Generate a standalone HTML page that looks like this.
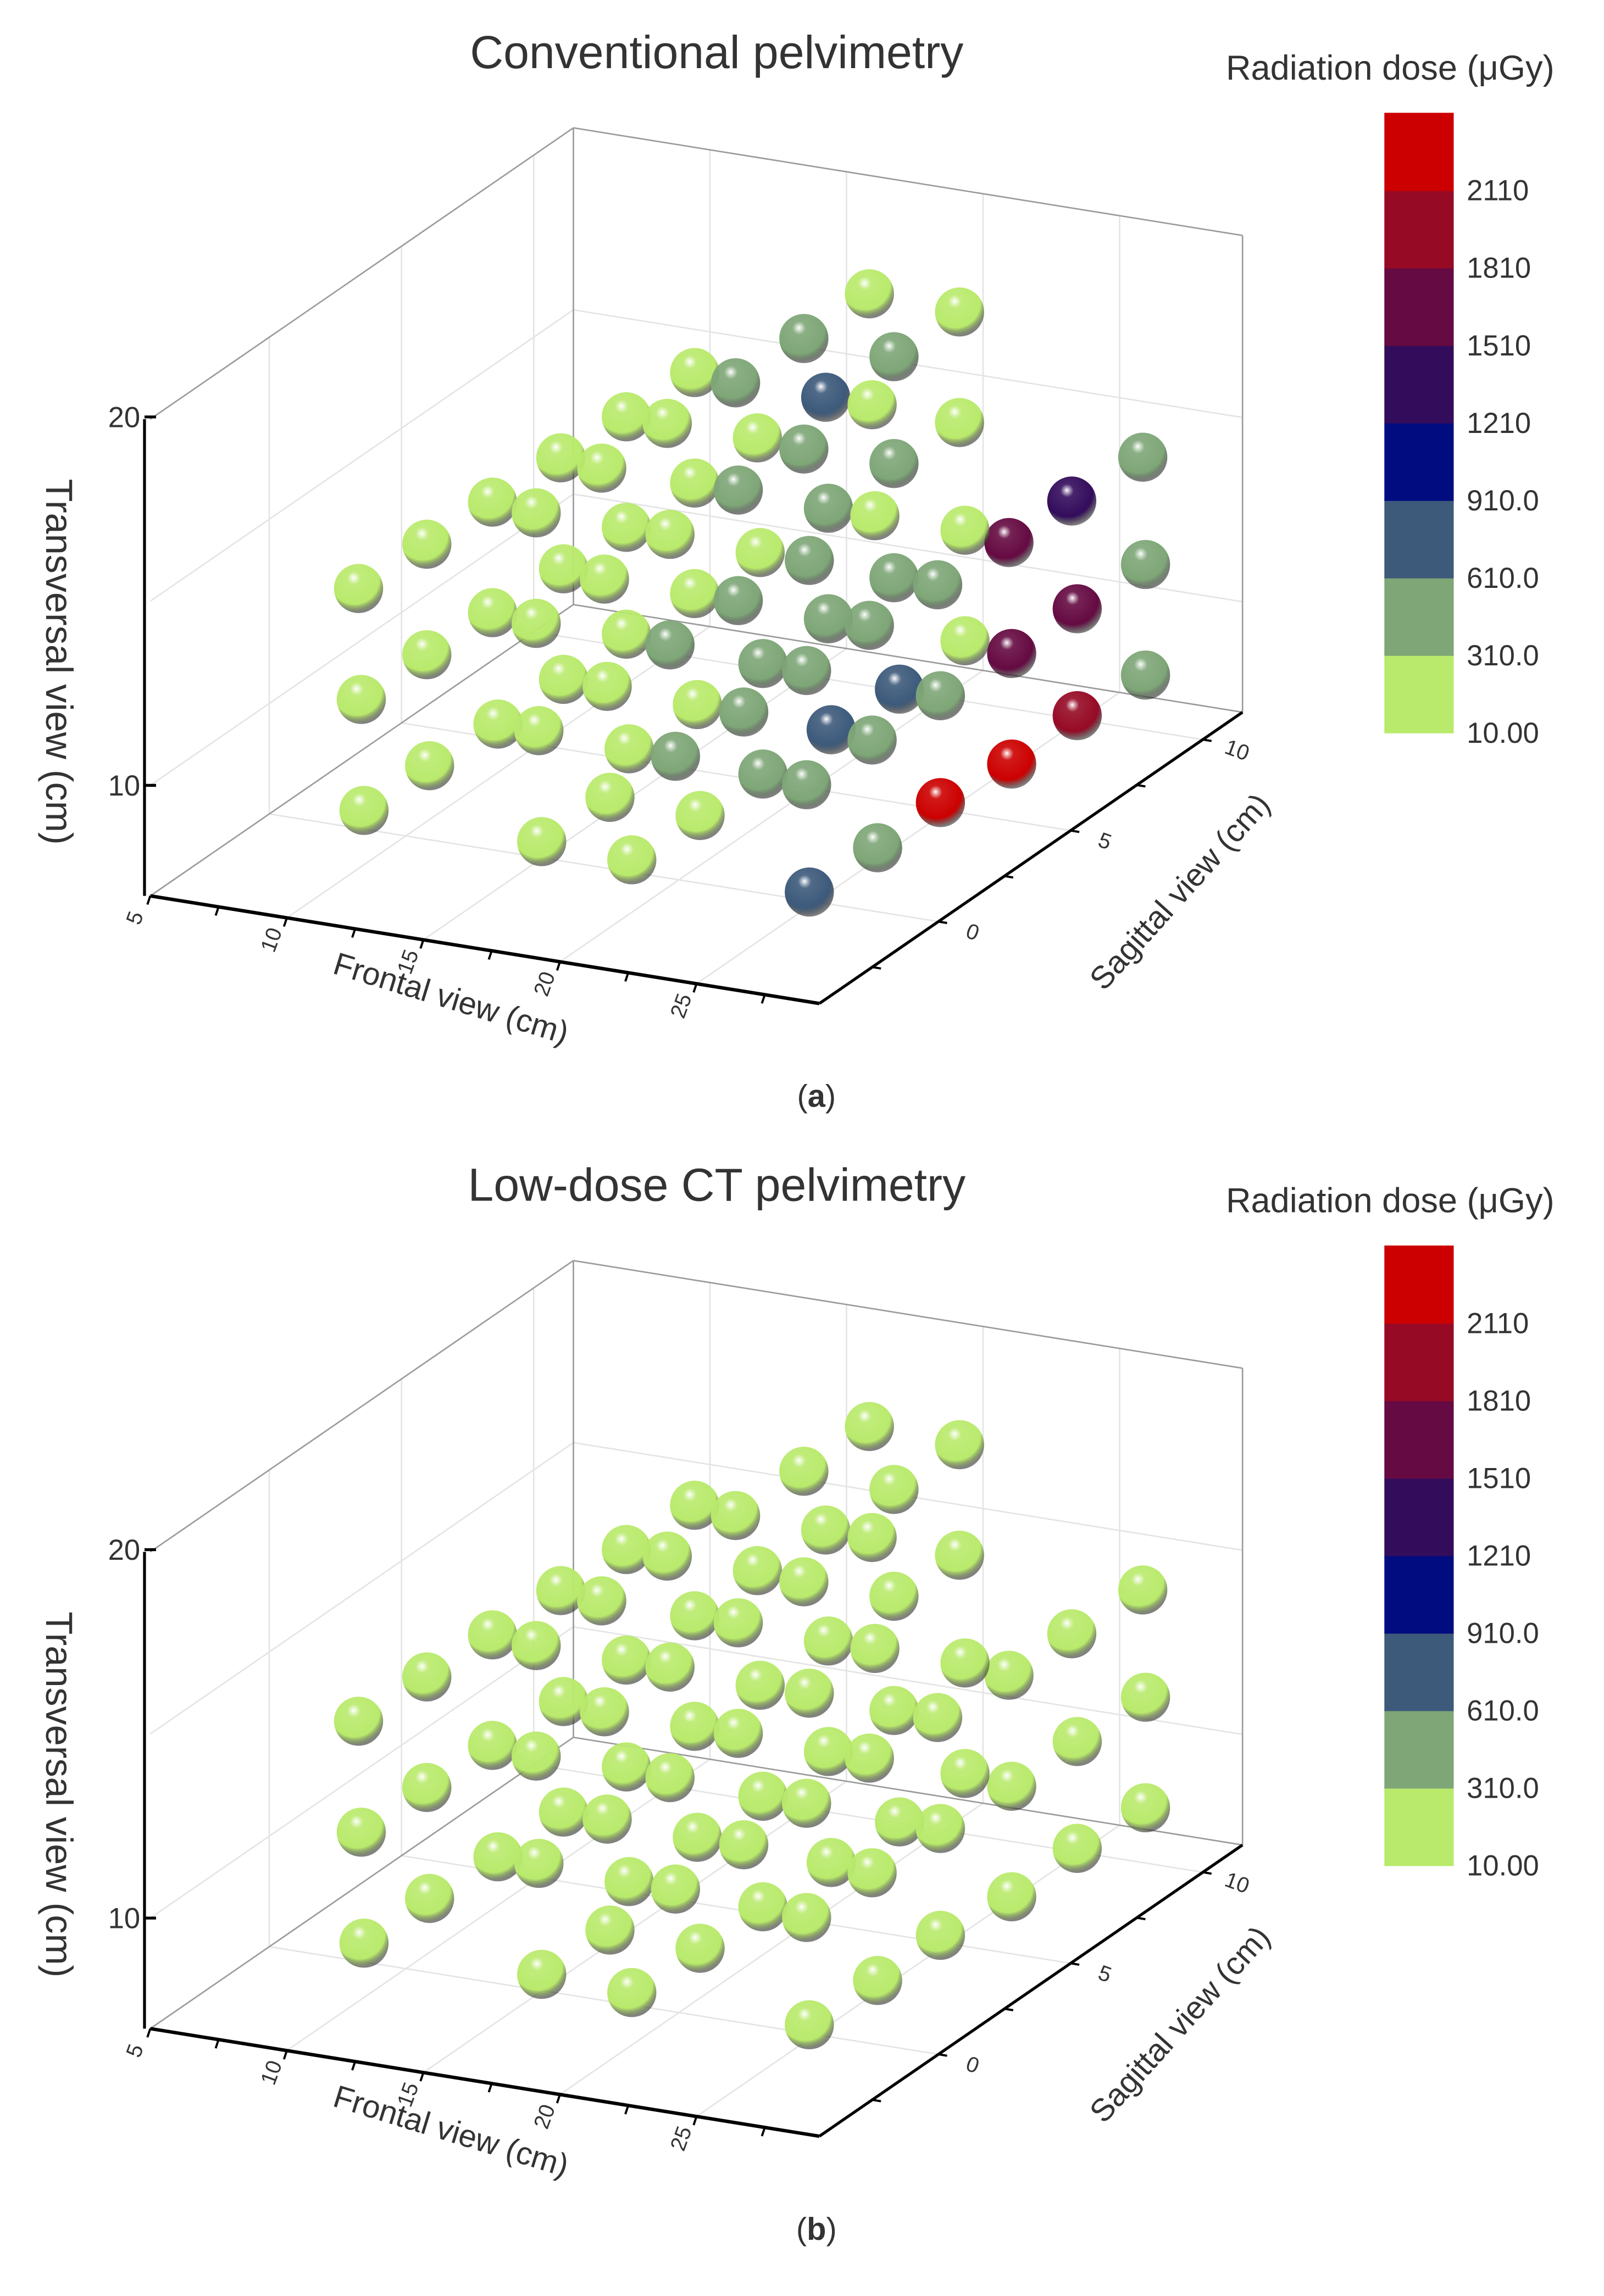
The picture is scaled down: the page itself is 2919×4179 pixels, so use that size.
<!DOCTYPE html>
<html><head><meta charset="utf-8"><style>
html,body{margin:0;padding:0;background:#fff}
svg{display:block}
text{font-family:"Liberation Sans","DejaVu Sans",sans-serif;fill:#333}
</style></head><body>
<svg id="fig" width="2919" height="4179" viewBox="0 0 1110 1589" xmlns="http://www.w3.org/2000/svg">
<defs id="defs"></defs>
</svg>
<script>
// ---- data ----
const frontal = [23.1,26.4,20.7,24.0,16.7,18.2,21.5,23.2,26.4,14.2,15.7,19.0,20.7,24.0,27.3,11.8,13.3,16.7,18.3,21.6,23.3,24.7,9.3,10.9,14.2,15.8,19.1,20.9,26.6,22.4,9.8,11.9,13.4,16.7,18.3,21.6,24.0,25.6,23.1,27.4,7.3,9.3,10.9,14.2,15.8,19.2,20.8,26.6,22.5,24.9,9.8,11.9,13.5,16.8,18.5,21.7,24.2,25.7,23.2,27.4,7.4,9.5,11.0,14.3,16.0,19.2,20.8,24.9,22.5,25.7,9.9,13.6,16.9,7.5,11.1,14.4,23.4,20.9];
const sagittal = [4,4,4,4,4,4,4,4,4,4,4,4,4,4,10,4,4,4,4,4,4,10,4,4,4,4,4,4,4,10,1,4,4,4,4,4,4,4,4,10,1,4,4,4,4,4,4,4,10,10,1,4,4,4,4,4,4,4,4,10,1,4,4,4,4,4,4,10,10,4,1,4,4,1,4,4,4,4];
const transversal = [21.3,21.2,19.8,19.7,18.4,18.3,18.3,18.3,18.2,16.9,16.9,16.9,16.8,16.8,14.4,15.5,15.4,15.4,15.4,15.3,15.3,12.9,14.0,13.9,13.9,13.9,13.8,13.8,15.3,11.5,14.4,12.5,12.4,12.4,12.4,12.3,13.7,13.7,12.3,11.5,12.9,11.0,10.9,11.0,10.9,10.8,10.8,12.3,8.5,10.0,11.4,9.5,9.5,9.4,9.4,9.3,10.7,10.7,9.2,8.5,9.9,8.0,8.0,7.9,7.9,7.8,7.7,7.1,5.5,7.8,8.4,6.5,6.4,6.9,5.0,4.9,6.3,4.8];
const doseA = [150,150,450,450,150,450,750,150,150,150,150,150,450,450,450,150,150,150,450,450,150,1350,150,150,150,150,150,450,150,1650,150,150,150,150,450,450,450,450,450,450,150,150,150,150,450,450,450,150,1650,1650,150,150,150,150,450,750,750,450,450,450,150,150,150,150,450,450,450,1950,2250,2250,150,150,150,150,150,150,450,750];
const doseB = [150,150,150,150,150,150,150,150,150,150,150,150,150,150,150,150,150,150,150,150,150,150,150,150,150,150,150,150,150,150,150,150,150,150,150,150,150,150,150,150,150,150,150,150,150,150,150,150,150,150,150,150,150,150,150,150,150,150,150,150,150,150,150,150,150,150,150,150,150,150,150,150,150,150,150,150,150,150];
const cbBounds = [10,310,610,910,1210,1510,1810,2110,2410];
const cbLabels = ["10.00","310.0","610.0","910.0","1210","1510","1810","2110"];
const cbColors = ["#b9ea6c","#7ea677","#3d5a7b","#000c80","#330c5c","#650a42","#960a25","#cc0000"];
const frontalTicks = [5,10,15,20,25];
const sagittalTicks = [0,5,10];
const transTicks = [10,20];
const titles = ["Conventional pelvimetry","Low-dose CT pelvimetry"];
const captions = ["a","b"];

const NS="http://www.w3.org/2000/svg";
const svg=document.getElementById('fig');
const defs=document.getElementById('defs');
function mk(tag,attrs,parent){const e=document.createElementNS(NS,tag);for(const k in attrs)e.setAttribute(k,attrs[k]);(parent||svg).appendChild(e);return e;}

const F0=5,F1=29.5,S0=-4.5,S1=11.5,T0=7,T1=19.94;
function proj(F,S,T,dy){return [104+18.9*(F-F0)+18.3*(S-S0), dy+620+3.04*(F-F0)-12.6*(S-S0)-25.5*(T-T0)];}
function colorIdx(v){for(let i=0;i<8;i++){if(v<cbBounds[i+1])return i;}return 7;}

cbColors.forEach((c,i)=>{
  const g=mk('radialGradient',{id:'sph'+i,cx:'0.42',cy:'0.32',r:'0.68',fx:'0.4',fy:'0.28'},defs);
  mk('stop',{offset:'0','stop-color':'#ffffff'},g);
  mk('stop',{offset:'0.2','stop-color':c,'stop-opacity':'0.9'},g);
  mk('stop',{offset:'0.75','stop-color':c},g);
  mk('stop',{offset:'1','stop-color':'#1a1a1a','stop-opacity':'0.55'},g);
});

function line(a,b,stroke,w,g){return mk('line',{x1:a[0],y1:a[1],x2:b[0],y2:b[1],stroke:stroke,'stroke-width':w},g);}

function panel(p,dy,dose){
  const g=mk('g',{});
  
  
  const t=mk('text',{x:496,y:dy+47,'font-size':32,'text-anchor':'middle'},g);t.textContent=titles[p];
  
  
  const grid=mk('g',{},g);
  
  
  const gc='#e4e4e4';
  frontalTicks.forEach(f=>{ if(f>F0){line(proj(f,S1,T0,dy),proj(f,S1,T1,dy),gc,1,grid);line(proj(f,S0,T0,dy),proj(f,S1,T0,dy),gc,1,grid);} });
  sagittalTicks.forEach(s=>{line(proj(F0,s,T0,dy),proj(F0,s,T1,dy),gc,1,grid);line(proj(F0,s,T0,dy),proj(F1,s,T0,dy),gc,1,grid);});
  [10,15].forEach(tv=>{line(proj(F0,S1,tv,dy),proj(F1,S1,tv,dy),gc,1,grid);line(proj(F0,S0,tv,dy),proj(F0,S1,tv,dy),gc,1,grid);});
  const box=mk('g',{},g);
  
  
  const bc='#9a9a9a';
  line(proj(F0,S1,T0,dy),proj(F0,S1,T1,dy),bc,1,box);
  line(proj(F1,S1,T0,dy),proj(F1,S1,T1,dy),bc,1,box);
  line(proj(F0,S1,T1,dy),proj(F1,S1,T1,dy),bc,1,box);
  line(proj(F0,S0,T1,dy),proj(F0,S1,T1,dy),bc,1,box);
  line(proj(F0,S1,T0,dy),proj(F1,S1,T0,dy),bc,1,box);
  line(proj(F0,S0,T0,dy),proj(F0,S1,T0,dy),bc,1,box);
  const ta=mk('g',{},g);
  
  
  line(proj(F0,S0,T0,dy).map((v,i)=>i?v:v-4),proj(F0,S0,T1,dy).map((v,i)=>i?v:v-4),'#000',2,ta);
  transTicks.forEach(tv=>{const q=proj(F0,S0,tv,dy);line([q[0]-4,q[1]],[q[0]+4,q[1]],'#000',2,ta);
    const tx=mk('text',{x:q[0]-7,y:q[1]+7,'font-size':20,'text-anchor':'end'},ta);tx.textContent=tv;
    
    });
  const tt=mk('text',{x:0,y:0,'font-size':26,'text-anchor':'middle',transform:`translate(32,${dy+458}) rotate(90)`},ta);tt.textContent='Transversal view (cm)';
  
  
  const fa=mk('g',{},g);
  
  
  line(proj(F0,S0,T0,dy),proj(F1,S0,T0,dy),'#000',2.4,fa);
  for(let f=F0;f<=F1;f+=2.5){const q=proj(f,S0,T0,dy);line(q,[q[0]-2,q[1]+6],'#000',1.5,fa);}
  frontalTicks.forEach(f=>{const q=proj(f,S0,T0,dy);
    const tx=mk('text',{x:0,y:0,'font-size':15,'text-anchor':'middle',transform:`translate(${q[0]-6},${q[1]+17}) rotate(-70)`},fa);tx.textContent=f;
    
    });
  const ft=mk('text',{x:0,y:0,'font-size':22,'text-anchor':'middle',transform:`translate(310,${dy+698}) rotate(17)`},fa);ft.textContent='Frontal view (cm)';
  
  
  const sa=mk('g',{},g);
  
  
  line(proj(F1,S0,T0,dy),proj(F1,S1,T0,dy),'#000',2,sa);
  for(let s=-2.5;s<=S1;s+=2.5){const q=proj(F1,s,T0,dy);line(q,[q[0]+6,q[1]+1],'#000',1.5,sa);}
  sagittalTicks.forEach(s=>{const q=proj(F1,s,T0,dy);
    const tx=mk('text',{x:0,y:0,'font-size':15,'text-anchor':'middle',transform:`translate(${q[0]+22},${q[1]+12}) rotate(20)`},sa);tx.textContent=s;
    
    });
  const st=mk('text',{x:0,y:0,'font-size':22,'text-anchor':'middle',transform:`translate(822,${dy+622}) rotate(-48)`},sa);st.textContent='Sagittal view (cm)';
  
  
  const sg=mk('g',{},g);
  
  
  const idx=frontal.map((_,i)=>i).sort((a,b)=>{const pa=proj(frontal[a],sagittal[a],transversal[a],0),pb=proj(frontal[b],sagittal[b],transversal[b],0);return (sagittal[b]-sagittal[a])||(pa[1]-pb[1]);});
  idx.forEach(i=>{const q=proj(frontal[i],sagittal[i],transversal[i],dy);
    const c=mk('circle',{cx:q[0],cy:q[1],r:17,fill:`url(#sph${colorIdx(dose[i])})`},sg);
    
    });
  const cb=mk('g',{},g);
  
  
  const ct=mk('text',{x:962,y:dy+55,'font-size':24,'text-anchor':'middle'},cb);ct.textContent='Radiation dose (\u03BCGy)';
  
  
  const top=dy+78,bot=dy+507,h=(bot-top)/8;
  cbColors.forEach((col,i)=>{const r=mk('rect',{x:958,y:bot-(i+1)*h,width:48,height:h+0.5,fill:col},cb);
    
    });
  cbLabels.forEach((l,i)=>{const tx=mk('text',{x:1015,y:bot-i*h+7,'font-size':20},cb);tx.textContent=l;
    
    });
  const cap=mk('text',{x:565,y:dy+766,'font-size':22,'text-anchor':'middle','font-family':'Liberation Serif, serif'},g);
  cap.innerHTML='(<tspan font-weight="bold">'+captions[p]+'</tspan>)';
  
  
}
panel(0,0,doseA);
panel(1,784,doseB);
</script>
</body></html>
